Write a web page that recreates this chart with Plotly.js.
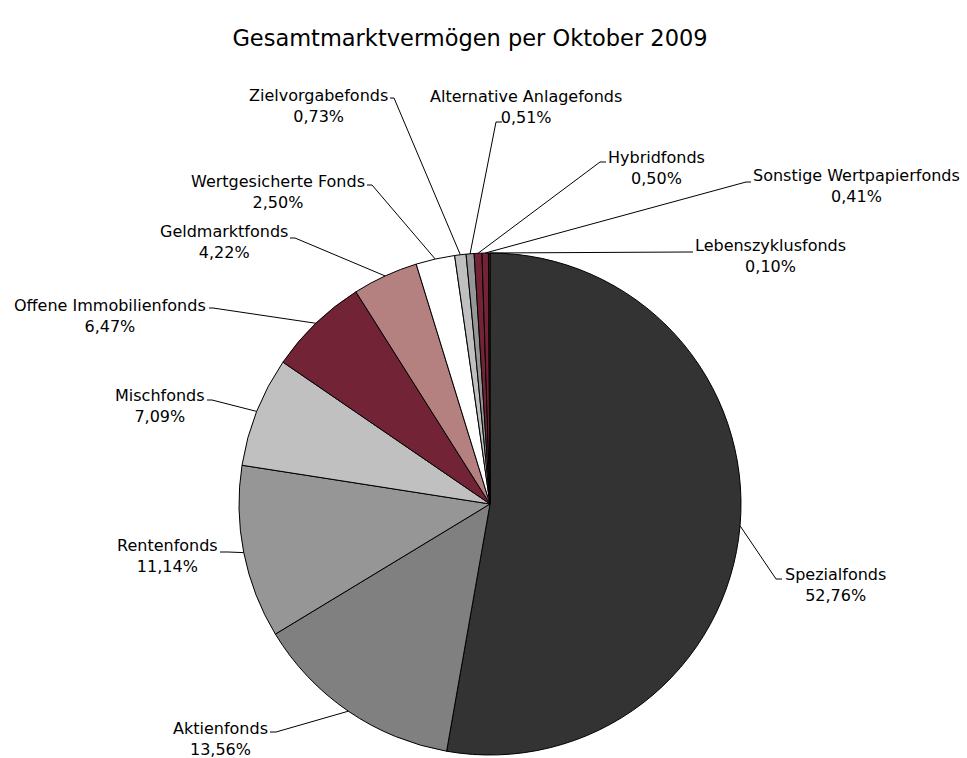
<!DOCTYPE html>
<html>
<head>
<meta charset="utf-8">
<script src="https://cdn.plot.ly/plotly-3.0.1.min.js"></script>
<style>html,body{margin:0;padding:0;background:#fff;}#chart{width:967px;height:758px;}</style>
</head>
<body>
<div id="chart"></div>
<script>
// ---- data ----
const categories = ["Spezialfonds","Aktienfonds","Rentenfonds","Mischfonds","Offene Immobilienfonds","Geldmarktfonds","Wertgesicherte Fonds","Zielvorgabefonds","Alternative Anlagefonds","Hybridfonds","Sonstige Wertpapierfonds","Lebenszyklusfonds"];
const shares = [52.76,13.56,11.14,7.09,6.47,4.22,2.50,0.73,0.51,0.50,0.41,0.10];
const sliceColors = ["#333333","#808080","#969696","#c0c0c0","#722436","#b48080","#ffffff","#c0c0c0","#969696","#722436","#722436","#5a1a28"];
const chartTitle = "Gesamtmarktvermögen per Oktober 2009";

// ---- layout (pixel positions of labels / leader elbows) ----
const W = 967, H = 758;
const pieCx = 490, pieCy = 504, pieR = 251;
// [anchor, textX, textMidY, elbowX, elbowY, stubX, stubY]
const labelLayout = [
  ["left",   784, 585, 776, 579, 782, 579],
  ["right",  269, 739, 276, 732, 270, 732],
  ["right",  219, 556, 228, 552, 220, 552],
  ["right",  206, 406, 212, 400, 207, 400],
  ["right",  207, 316, 213, 308, 209, 308],
  ["right",  289, 242, 295, 238, 290, 238],
  ["right",  366, 192, 372, 185, 367, 185],
  ["right",  389, 106, 394, 98, 390, 98],
  ["center", 526, 107, 496, 122, 502, 122],
  ["left",   607, 168, 600, 162, 606, 162],
  ["left",   752, 186, 746, 182, 751, 182],
  ["left",   694, 256, 688, 252, 693, 252]
];

const px = x => x / W;
const py = y => 1 - y / H;
const fmt = v => v.toFixed(2).replace(".", ",") + "%";

const total = shares.reduce((a, b) => a + b, 0);
const shapes = [];
const annotations = [];
let cum = 0;
shares.forEach((v, i) => {
  const mid = (cum + v / 2) / total;
  cum += v;
  const th = 2 * Math.PI * mid;
  const ex = pieCx + pieR * Math.sin(th);
  const ey = pieCy - pieR * Math.cos(th);
  const L = labelLayout[i];
  shapes.push({
    type: "path", xref: "paper", yref: "paper",
    path: `M ${px(ex)},${py(ey)} L ${px(L[3])},${py(L[4])} L ${px(L[5])},${py(L[6])}`,
    line: {color: "#000", width: 1}
  });
  annotations.push({
    xref: "paper", yref: "paper", x: px(L[1]), y: py(L[2]),
    xanchor: L[0], yanchor: "middle", align: "center", showarrow: false,
    text: categories[i] + "<br>" + fmt(v), borderpad: 0,
    font: {family: "DejaVu Sans, sans-serif", size: 16, color: "#000"}
  });
});

const trace = {
  type: "pie", labels: categories, values: shares, sort: false,
  direction: "clockwise", rotation: 0, textinfo: "none", hoverinfo: "none",
  marker: {colors: sliceColors, line: {color: "#000", width: 1}},
  domain: {x: [px(pieCx - pieR), px(pieCx + pieR)], y: [py(pieCy + pieR), py(pieCy - pieR)]},
  showlegend: false
};

const layout = {
  width: W, height: H, margin: {l: 0, r: 0, t: 0, b: 0},
  paper_bgcolor: "#fff", plot_bgcolor: "#fff", showlegend: false,
  title: {text: chartTitle, x: 470 / W, xanchor: "center", xref: "paper", y: py(38), yanchor: "middle", yref: "paper",
          font: {family: "DejaVu Sans, sans-serif", size: 22.5, color: "#000"}},
  shapes: shapes, annotations: annotations
};
Plotly.newPlot("chart", [trace], layout, {displayModeBar: false, staticPlot: true});
</script>
</body>
</html>
